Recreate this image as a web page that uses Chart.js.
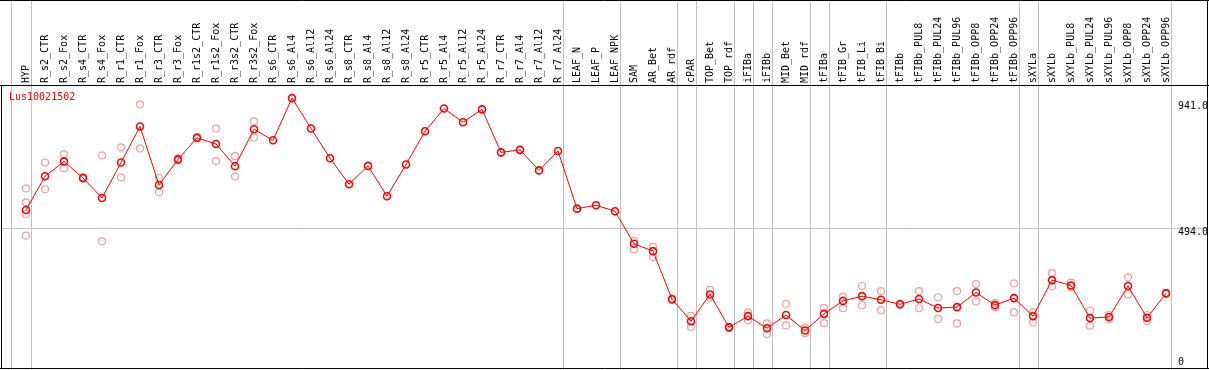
<!DOCTYPE html>
<html>
<head>
<meta charset="utf-8">
<script src="https://cdn.jsdelivr.net/npm/chart.js@4/dist/chart.umd.min.js"></script>
<style>
  body { margin: 0; background: #fff; }
  canvas { display: block; }
</style>
</head>
<body>
<canvas id="exprChart" width="1209" height="370"></canvas>
<script>
var geneName = "Lus10021502";

var samples = ["HYP", "R_s2_CTR", "R_s2_Fox", "R_s4_CTR", "R_s4_Fox", "R_r1_CTR", "R_r1_Fox",
    "R_r3_CTR", "R_r3_Fox", "R_r1s2_CTR", "R_r1s2_Fox", "R_r3s2_CTR", "R_r3s2_Fox",
    "R_s6_CTR", "R_s6_Al4", "R_s6_Al12", "R_s6_Al24", "R_s8_CTR", "R_s8_Al4", "R_s8_Al12",
    "R_s8_Al24", "R_r5_CTR", "R_r5_Al4", "R_r5_Al12", "R_r5_Al24", "R_r7_CTR", "R_r7_Al4",
    "R_r7_Al12", "R_r7_Al24", "LEAF_N", "LEAF_P", "LEAF_NPK", "SAM", "AR_Bet", "AR_rdf",
    "cPAR", "TOP_Bet", "TOP_rdf", "iFIBa", "iFIBb", "MID_Bet", "MID_rdf", "tFIBa", "tFIB_Gr",
    "tFIB_Li", "tFIB_Bi", "tFIBb", "tFIBb_PUL8", "tFIBb_PUL24", "tFIBb_PUL96", "tFIBb_OPP8",
    "tFIBb_OPP24", "tFIBb_OPP96", "sXYLa", "sXYLb", "sXYLb_PUL8", "sXYLb_PUL24", "sXYLb_PUL96",
    "sXYLb_OPP8", "sXYLb_OPP24", "sXYLb_OPP96"];

// mean expression per sample
var meanValues = [558, 678, 731, 672, 601, 727, 855, 647, 738, 815, 793, 714, 845,
    806, 956, 848, 742, 650, 715, 607, 720, 838, 919, 870, 916, 763, 772, 699, 768,
    563, 575, 554, 438, 412, 241, 163, 258, 141, 181, 138, 185, 130, 189, 235, 252,
    239, 223, 242, 210, 213, 265, 220, 245, 181, 309, 290, 174, 178, 288, 175, 262];

// replicates (null = none shown)
var rep1 = [635, 727, 757, 675, 752, 781, 934, 672, 742, 818, 848, 750, 873,
    null, null, null, null, null, null, null, null, null, null, null, null, null, null, null, null,
    null, null, null, 448, 428, 244, 182, 274, 143, 194, 155, 224, 140, 210, 250, 288,
    270, 225, 270, 248, 270, 295, 227, 297, 195, 334, 300, 200, 185, 319, 185, 264];
var rep2 = [585, 632, 707, 669, 447, 674, 777, 621, 734, 812, 732, 678, 816,
    null, null, null, null, null, null, null, null, null, null, null, null, null, null, null, null,
    null, null, null, 418, 391, 238, 143, 246, 139, 166, 117, 148, 120, 156, 209, 220,
    202, 221, 209, 171, 155, 233, 212, 194, 159, 287, 284, 147, 171, 258, 164, 260];
var rep3 = [544];
var rep4 = [467];

// tick values on the right side
var yTicks = [0, 494, 941];
// separators drawn after these sample indexes (first one is the left margin line)
var groupLines = [-0.8, 0.25, 28.25, 31.25, 34.25, 35.25, 37.25, 38.25, 39.25, 41.25,
    42.25, 45.25, 52.25, 53.25, 60.25];

function toPoints(arr) {
    return arr.map(function (v, i) { return { x: i, y: v }; });
}

var monoFont = { family: "'DejaVu Sans Mono', monospace", size: 10 };

var framePlugin = {
    id: 'frame',
    beforeDatasetsDraw: function (chart) {
        var ctx = chart.ctx;
        var xs = chart.scales.x;
        ctx.save();
        ctx.strokeStyle = '#c0c0c0';
        ctx.lineWidth = 1;
        groupLines.forEach(function (g) {
            var px = Math.round(xs.getPixelForValue(g)) + 0.5;
            ctx.beginPath();
            ctx.moveTo(px, 0);
            ctx.lineTo(px, chart.height);
            ctx.stroke();
        });
        // black frame
        var a = chart.chartArea;
        ctx.strokeStyle = '#000';
        ctx.beginPath();
        ctx.moveTo(0, 0.5); ctx.lineTo(chart.width, 0.5);
        ctx.moveTo(0, a.top - 0.5); ctx.lineTo(chart.width, a.top - 0.5);
        ctx.moveTo(a.left + 0.5, a.top); ctx.lineTo(a.left + 0.5, a.bottom);
        ctx.moveTo(a.right - 0.5, 0); ctx.lineTo(a.right - 0.5, a.bottom);
        ctx.moveTo(0, a.bottom - 0.5); ctx.lineTo(chart.width, a.bottom - 0.5);
        ctx.stroke();
        ctx.restore();
    },
    afterDraw: function (chart) {
        var ctx = chart.ctx;
        var ys = chart.scales.y;
        var a = chart.chartArea;
        ctx.save();
        ctx.font = "10px 'DejaVu Sans Mono', monospace";
        ctx.textBaseline = 'middle';
        ctx.textAlign = 'left';
        ctx.fillStyle = '#f00';
        ctx.fillText(geneName, 9, a.top + 11.5);
        ctx.fillStyle = '#000';
        yTicks.forEach(function (t) {
            var py = Math.min(ys.getPixelForValue(t) + 4.5, a.bottom - 7);
            ctx.fillText(t === 0 ? '0' : t.toFixed(1), 1178, py);
        });
        ctx.restore();
    }
};

var repStyle = {
    showLine: false,
    pointRadius: 3.5,
    pointBorderWidth: 1.2,
    pointBorderColor: '#f0a0a0',
    pointBackgroundColor: 'rgba(0,0,0,0)'
};

var chart = new Chart(document.getElementById('exprChart'), {
    type: 'line',
    data: {
        datasets: [
            {
                label: geneName,
                data: toPoints(meanValues),
                borderColor: '#ff0000',
                borderWidth: 1,
                pointRadius: 3.5,
                pointBorderWidth: 1.6,
                pointBorderColor: '#ff0000',
                pointBackgroundColor: 'rgba(0,0,0,0)',
                tension: 0
            },
            Object.assign({ label: 'rep1', data: toPoints(rep1) }, repStyle),
            Object.assign({ label: 'rep2', data: toPoints(rep2) }, repStyle),
            Object.assign({ label: 'rep3', data: toPoints(rep3) }, repStyle),
            Object.assign({ label: 'rep4', data: toPoints(rep4) }, repStyle)
        ]
    },
    options: {
        responsive: false,
        animation: false,
        devicePixelRatio: 1,
        spanGaps: false,
        layout: { autoPadding: false, padding: { left: 1, right: 1, top: 0, bottom: 1 } },
        plugins: { legend: { display: false }, tooltip: { enabled: false } },
        scales: {
            x: {
                type: 'linear',
                position: 'top',
                min: -1.316,
                max: 62.21,
                afterBuildTicks: function (s) {
                    s.ticks = samples.map(function (n, i) { return { value: i }; });
                },
                afterFit: function (s) {
                    s.height = 86;
                    s.paddingLeft = 0;
                    s.paddingRight = 0;
                },
                grid: { display: false, drawTicks: false },
                border: { display: false },
                ticks: {
                    autoSkip: false,
                    minRotation: 90,
                    maxRotation: 90,
                    padding: 3,
                    labelOffset: 12,
                    color: '#000',
                    font: monoFont,
                    callback: function (v) { return samples[v]; }
                }
            },
            y: {
                type: 'linear',
                position: 'right',
                min: -7,
                max: 999,
                afterBuildTicks: function (s) {
                    s.ticks = yTicks.map(function (t) { return { value: t }; });
                },
                afterFit: function (s) { s.width = 0; },
                grid: {
                    drawTicks: false,
                    color: function (c) { return c.tick && c.tick.value === 494 ? '#c0c0c0' : 'rgba(0,0,0,0)'; }
                },
                border: { display: false },
                ticks: { display: false }
            }
        }
    },
    plugins: [framePlugin]
});
</script>
</body>
</html>
